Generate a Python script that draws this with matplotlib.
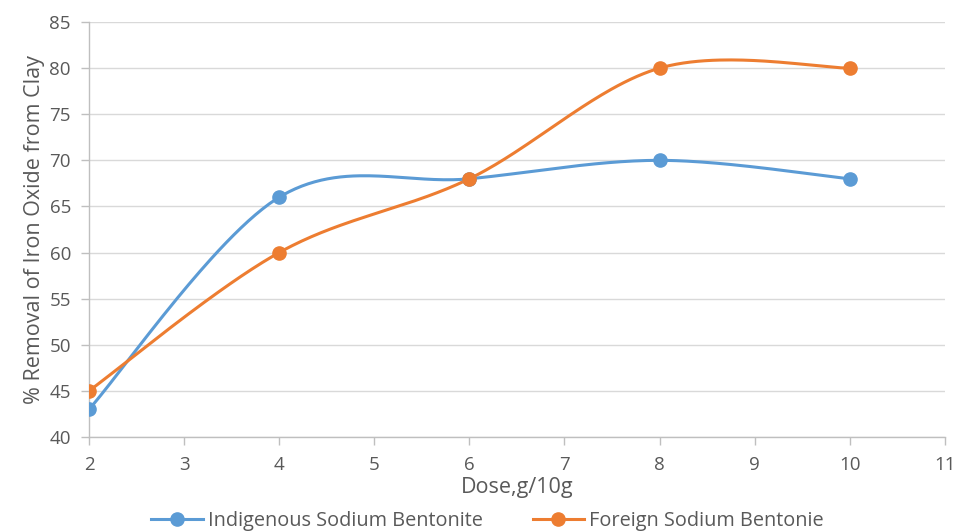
import numpy as np
import matplotlib.pyplot as plt

plt.rcParams['font.family'] = ['Open Sans', 'DejaVu Sans']

dose = [2, 4, 6, 8, 10]
indigenous = [43, 66, 68, 70, 68]
foreign = [45, 60, 68, 80, 80]

x_ticks = [2, 3, 4, 5, 6, 7, 8, 9, 10, 11]
y_ticks = [40, 45, 50, 55, 60, 65, 70, 75, 80, 85]


# Excel-artige Glättung (Catmull-Rom als Bezier)
def smooth(x, y, n=60):
    p = np.column_stack([x, y]).astype(float)
    p = np.vstack([p[0], p, p[-1]])
    xs, ys = [], []
    t = np.linspace(0, 1, n)[:, None]
    for i in range(1, len(p) - 2):
        p0, p1, p2, p3 = p[i - 1], p[i], p[i + 1], p[i + 2]
        c1 = p1 + (p2 - p0) / 6
        c2 = p2 - (p3 - p1) / 6
        b = ((1 - t) ** 3) * p1 + 3 * ((1 - t) ** 2) * t * c1 + 3 * (1 - t) * t ** 2 * c2 + t ** 3 * p2
        xs.extend(b[:, 0])
        ys.extend(b[:, 1])
    return np.array(xs), np.array(ys)


blue = '#5B9BD5'
orange = '#ED7D31'
grey = '#595959'

fig = plt.figure(figsize=(9.6, 5.32), dpi=100)
ax = fig.add_axes([0.0927, 0.1786, 0.8915, 0.78])

for yy, col, lab in [(indigenous, blue, 'Indigenous Sodium Bentonite'),
                     (foreign, orange, 'Foreign Sodium Bentonie')]:
    sx, sy = smooth(dose, yy)
    ax.plot(sx, sy, color=col, lw=2.2, zorder=3)
    ax.plot(dose, yy, 'o', color=col, ms=9.5, zorder=4)
    ax.plot([], [], '-o', color=col, lw=2.2, ms=9.5, label=lab)

ax.set_xlim(2, 11)
ax.set_ylim(40, 85)
ax.set_xticks(x_ticks)
ax.set_yticks(y_ticks)
ax.grid(axis='y', color='#D9D9D9', lw=1)
ax.set_axisbelow(True)
for s in ['top', 'right']:
    ax.spines[s].set_visible(False)
for s in ['left', 'bottom']:
    ax.spines[s].set_color('#BFBFBF')
    ax.spines[s].set_linewidth(1)
ax.tick_params(axis='both', colors='#BFBFBF', labelcolor=grey, labelsize=13.5, length=6, width=1)
ax.tick_params(axis='y', pad=7)
ax.tick_params(axis='x', pad=8)

ax.set_xlabel('Dose,g/10g', fontsize=15.5, color=grey, labelpad=2)
ax.set_ylabel('% Removal of Iron Oxide from Clay', fontsize=15.5, color=grey, labelpad=3)

fig.legend(loc='center', bbox_to_anchor=(0.508, 0.02), ncol=2, frameon=False,
           fontsize=14.3, labelcolor=grey, handlelength=2.6, columnspacing=2.5, handletextpad=0.25)

fig.savefig('out.png', dpi=100)
